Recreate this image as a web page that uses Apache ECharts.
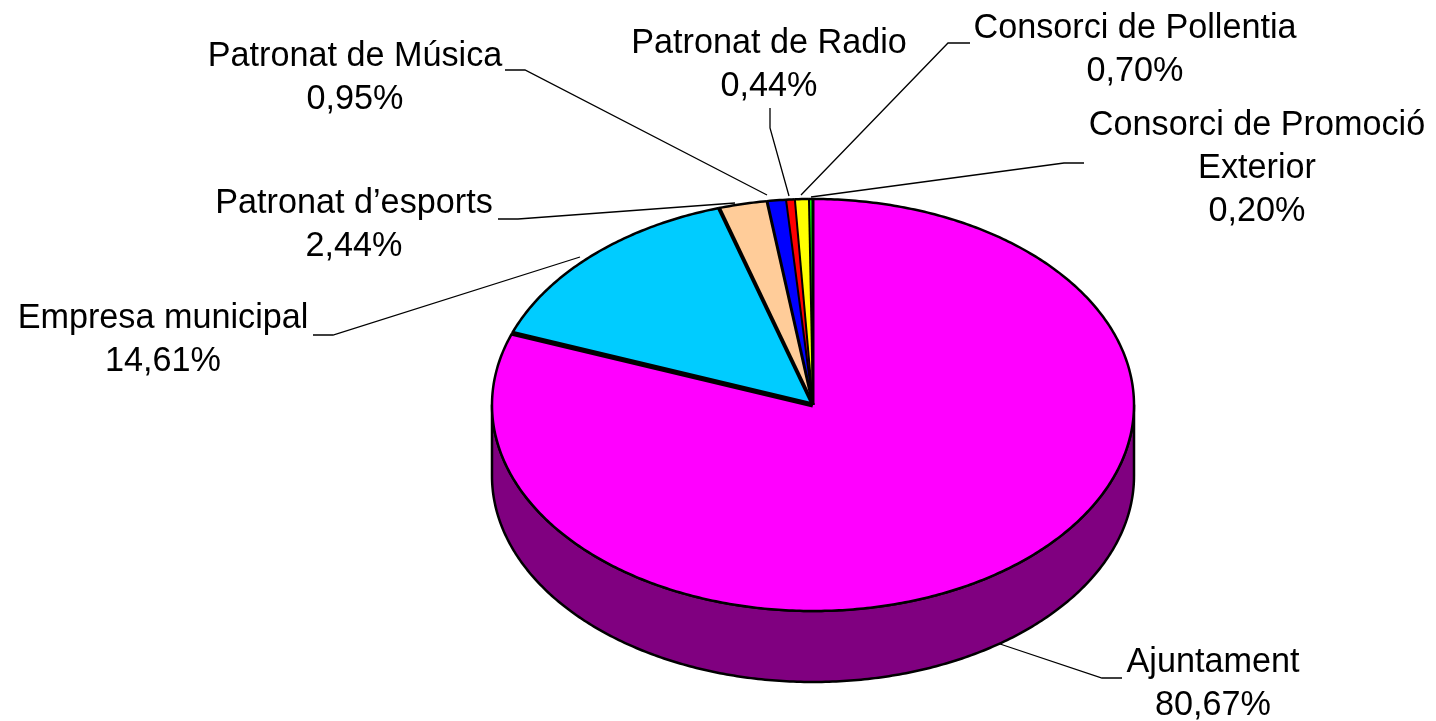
<!DOCTYPE html>
<html><head><meta charset="utf-8">
<style>html,body{margin:0;padding:0;background:#fff}#c{width:1436px;height:721px}</style>
<script src="https://cdn.jsdelivr.net/npm/echarts@6/dist/echarts.min.js"></script>
</head><body><div id="c"></div>
<script>
const names = ['Ajuntament','Empresa municipal','Patronat d’esports','Patronat de Música','Patronat de Radio','Consorci de Pollentia','Consorci de Promoció\nExterior'];
const values = [80.67,14.61,2.44,0.95,0.44,0.70,0.20];
const valueLabels = ['80,67%','14,61%','2,44%','0,95%','0,44%','0,70%','0,20%'];
const topColors = ['#FF00FF','#00CCFF','#FFCC99','#0000FF','#FF0000','#FFFF00','#00FF00'];
const sideColors = ['#800080','#006680','#80664D','#000080','#800000','#808000','#008000'];

// presentation layout (not data)
const PIE = {cx:813, cy:405, rx:321, ry:206, depth:71};
const labelCenters = [[1213,684],[163,340],[354,225],[355,78],[769,65],[1135,50],[1257,169]];
const edgeWidths = [3,5,4,3,2,2,2];
const leaders = [
  [[1122,678],[1102,678],[1000,644]],
  [[313,335],[333,335],[580,257]],
  [[498,219],[518,219],[735,203]],
  [[505,70],[525,70],[767,195]],
  [[770,108],[770,128],[789,196]],
  [[970,43],[948,43],[801,195]],
  [[1084,163],[1064,163],[811,197]]
];

const total = values.reduce((a,b)=>a+b,0);
let acc = 0;
const rows = values.map((v,i)=>{const s=acc/total*2*Math.PI; acc+=v; return [s,acc/total*2*Math.PI,i];});

const pt = (a,dy=0)=>[PIE.cx+PIE.rx*Math.sin(a), PIE.cy-PIE.ry*Math.cos(a)+dy];
function arc(a0,a1,dy=0){
  const n=Math.max(2,Math.ceil(Math.abs(a1-a0)*90)), out=[];
  for(let k=0;k<=n;k++) out.push(pt(a0+(a1-a0)*k/n,dy));
  return out;
}
function renderSide(params,api){
  const a0=Math.max(api.value(0),Math.PI/2), a1=Math.min(api.value(1),Math.PI*1.5);
  if(a1<=a0) return {type:'group',children:[]};
  const i=api.value(2);
  const pts=arc(a0,a1).concat(arc(a1,a0,PIE.depth));
  return {type:'polygon',shape:{points:pts},style:{fill:sideColors[i],stroke:'#000',lineWidth:2.5,lineJoin:'round'}};
}
function renderTop(params,api){
  const a0=api.value(0), a1=api.value(1), i=api.value(2);
  return {type:'polygon',shape:{points:[[PIE.cx,PIE.cy]].concat(arc(a0,a1))},style:{fill:topColors[i]}};
}
function renderEdges(params,api){
  const a0=api.value(0), a1=api.value(1), i=api.value(2);
  return {type:'group',children:[
    {type:'polyline',shape:{points:arc(a0,a1)},style:{stroke:'#000',lineWidth:2.5,fill:null}},
    {type:'polyline',shape:{points:[pt(a0),[PIE.cx,PIE.cy]]},style:{stroke:'#000',lineWidth:edgeWidths[i],fill:null}}
  ]};
}
function renderLabel(params,api){
  const i=api.value(2);
  const [x,y]=labelCenters[i];
  return {type:'group',children:[
    {type:'polyline',shape:{points:leaders[i]},style:{stroke:'#000',lineWidth:1.3,fill:null}},
    {type:'text',x:x,y:y,style:{text:names[i]+'\n'+valueLabels[i],align:'center',verticalAlign:'middle',
      fontFamily:'"Liberation Sans",Arial,sans-serif',fontSize:34.2,lineHeight:43,fill:'#000'}}
  ]};
}
const base={type:'custom',coordinateSystem:'none',data:rows,animation:false,silent:true,clip:false};
const chart=echarts.init(document.getElementById('c'),null,{renderer:'canvas'});
chart.setOption({
  animation:false,backgroundColor:'#fff',
  series:[
    Object.assign({},base,{name:'side',z:1,renderItem:renderSide}),
    Object.assign({},base,{name:'top',z:2,renderItem:renderTop}),
    Object.assign({},base,{name:'edges',z:3,renderItem:renderEdges}),
    Object.assign({},base,{name:'labels',z:4,renderItem:renderLabel})
  ]
});
</script></body></html>
